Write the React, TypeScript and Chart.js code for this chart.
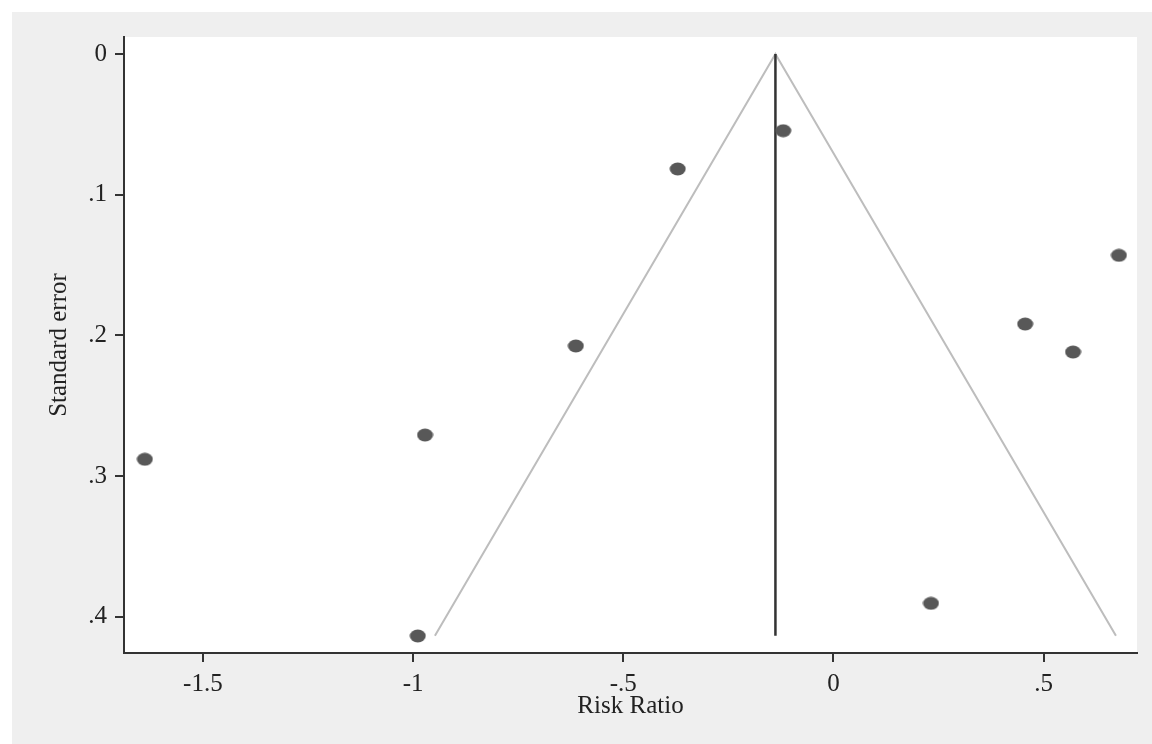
import React, { useEffect, useRef } from "react";
import { Chart, registerables } from "chart.js";

Chart.register(...registerables);

// Study estimates (x = effect, y = standard error)
const studyEffect = [-0.1195, -0.3705, -0.6128, -0.9715, -1.638, -0.9888, 0.232, 0.456, 0.57, 0.679];
const studySE = [0.0545, 0.0817, 0.2075, 0.2708, 0.288, 0.4136, 0.3904, 0.1919, 0.2118, 0.1431];

// Pseudo 95% confidence limits and pooled estimate
const funnelX = [-0.948, -0.138, 0.672];
const funnelY = [0.4135, 0, 0.4135];
const pooledX = [-0.138, -0.138];
const pooledY = [0, 0.4135];

const xTickValues = [-1.5, -1, -0.5, 0, 0.5];
const xTickLabels = ["-1.5", "-1", "-.5", "0", ".5"];
const yTickValues = [0, 0.1, 0.2, 0.3, 0.4];
const yTickLabels = ["0", ".1", ".2", ".3", ".4"];

const FONT = "'Liberation Serif', 'DejaVu Serif', serif";
const TEXT = "#222222";
const AXIS = "#333333";

function makeDot(): HTMLCanvasElement {
  const c = document.createElement("canvas");
  c.width = 17;
  c.height = 14;
  const g = c.getContext("2d")!;
  g.fillStyle = "#585858";
  g.beginPath();
  g.ellipse(8.5, 7, 8, 6.5, 0, 0, Math.PI * 2);
  g.fill();
  return c;
}

const bgPlugin = {
  id: "stataBg",
  beforeDraw(chart: any) {
    const { ctx, width, height, chartArea } = chart;
    ctx.save();
    ctx.fillStyle = "#ffffff";
    ctx.fillRect(0, 0, width, height);
    ctx.fillStyle = "#efefef";
    ctx.fillRect(12, 12, width - 12, height - 12);
    ctx.fillStyle = "#ffffff";
    ctx.fillRect(chartArea.left, chartArea.top, chartArea.right - chartArea.left, chartArea.bottom - chartArea.top);
    ctx.restore();
  },
};

export default function App() {
  const ref = useRef<HTMLCanvasElement | null>(null);

  useEffect(() => {
    if (!ref.current) return;
    const dot = makeDot();
    const chart = new Chart(ref.current, {
      type: "scatter",
      data: {
        datasets: [
          {
            label: "Studies",
            data: studyEffect.map((x, i) => ({ x, y: studySE[i] })),
            pointStyle: dot as any,
            pointRadius: 8,
            showLine: false,
          },
          {
            label: "Pooled",
            data: pooledX.map((x, i) => ({ x, y: pooledY[i] })),
            showLine: true,
            borderColor: "#333333",
            borderWidth: 2.5,
            pointRadius: 0,
          },
          {
            label: "Funnel",
            data: funnelX.map((x, i) => ({ x, y: funnelY[i] })),
            showLine: true,
            borderColor: "#bdbdbd",
            borderWidth: 2,
            pointRadius: 0,
          },
        ],
      },
      options: {
        animation: false,
        responsive: false,
        devicePixelRatio: 1,
        layout: { padding: { left: 0, top: 37, right: 15, bottom: 0 } },
        plugins: { legend: { display: false }, tooltip: { enabled: false } },
        scales: {
          x: {
            type: "linear",
            min: -1.6876,
            max: 0.7221,
            afterBuildTicks: (s: any) => {
              s.ticks = xTickValues.map((v) => ({ value: v }));
            },
            afterFit: (s: any) => {
              s.height = 91;
            },
            ticks: {
              callback: (_v: any, i: number) => xTickLabels[i],
              font: { family: FONT, size: 25 },
              color: TEXT,
              padding: 7,
              autoSkip: false,
              maxRotation: 0,
            },
            grid: { drawOnChartArea: false, drawTicks: true, tickLength: 9, color: AXIS, lineWidth: 2 },
            border: { display: true, color: AXIS, width: 2 },
            title: {
              display: true,
              text: "Risk Ratio",
              font: { family: FONT, size: 25 },
              color: TEXT,
              padding: { top: 0, bottom: 23 },
            },
          },
          y: {
            type: "linear",
            reverse: true,
            min: -0.0121,
            max: 0.4257,
            afterBuildTicks: (s: any) => {
              s.ticks = yTickValues.map((v) => ({ value: v }));
            },
            afterFit: (s: any) => {
              s.width = 124;
            },
            ticks: {
              callback: (_v: any, i: number) => yTickLabels[i],
              font: { family: FONT, size: 25 },
              color: TEXT,
              padding: 8,
              autoSkip: false,
            },
            grid: { drawOnChartArea: false, drawTicks: true, tickLength: 9, color: AXIS, lineWidth: 2 },
            border: { display: true, color: AXIS, width: 2 },
            title: {
              display: true,
              text: "Standard error",
              font: { family: FONT, size: 25 },
              color: TEXT,
              padding: { top: 44, bottom: 0 },
            },
          },
        },
      },
      plugins: [bgPlugin],
    });
    return () => chart.destroy();
  }, []);

  return (
    <div style={{ position: "fixed", left: 0, top: 0, width: 1152, height: 744 }}>
      <canvas ref={ref} width={1152} height={744} style={{ width: 1152, height: 744, display: "block" }} />
    </div>
  );
}
